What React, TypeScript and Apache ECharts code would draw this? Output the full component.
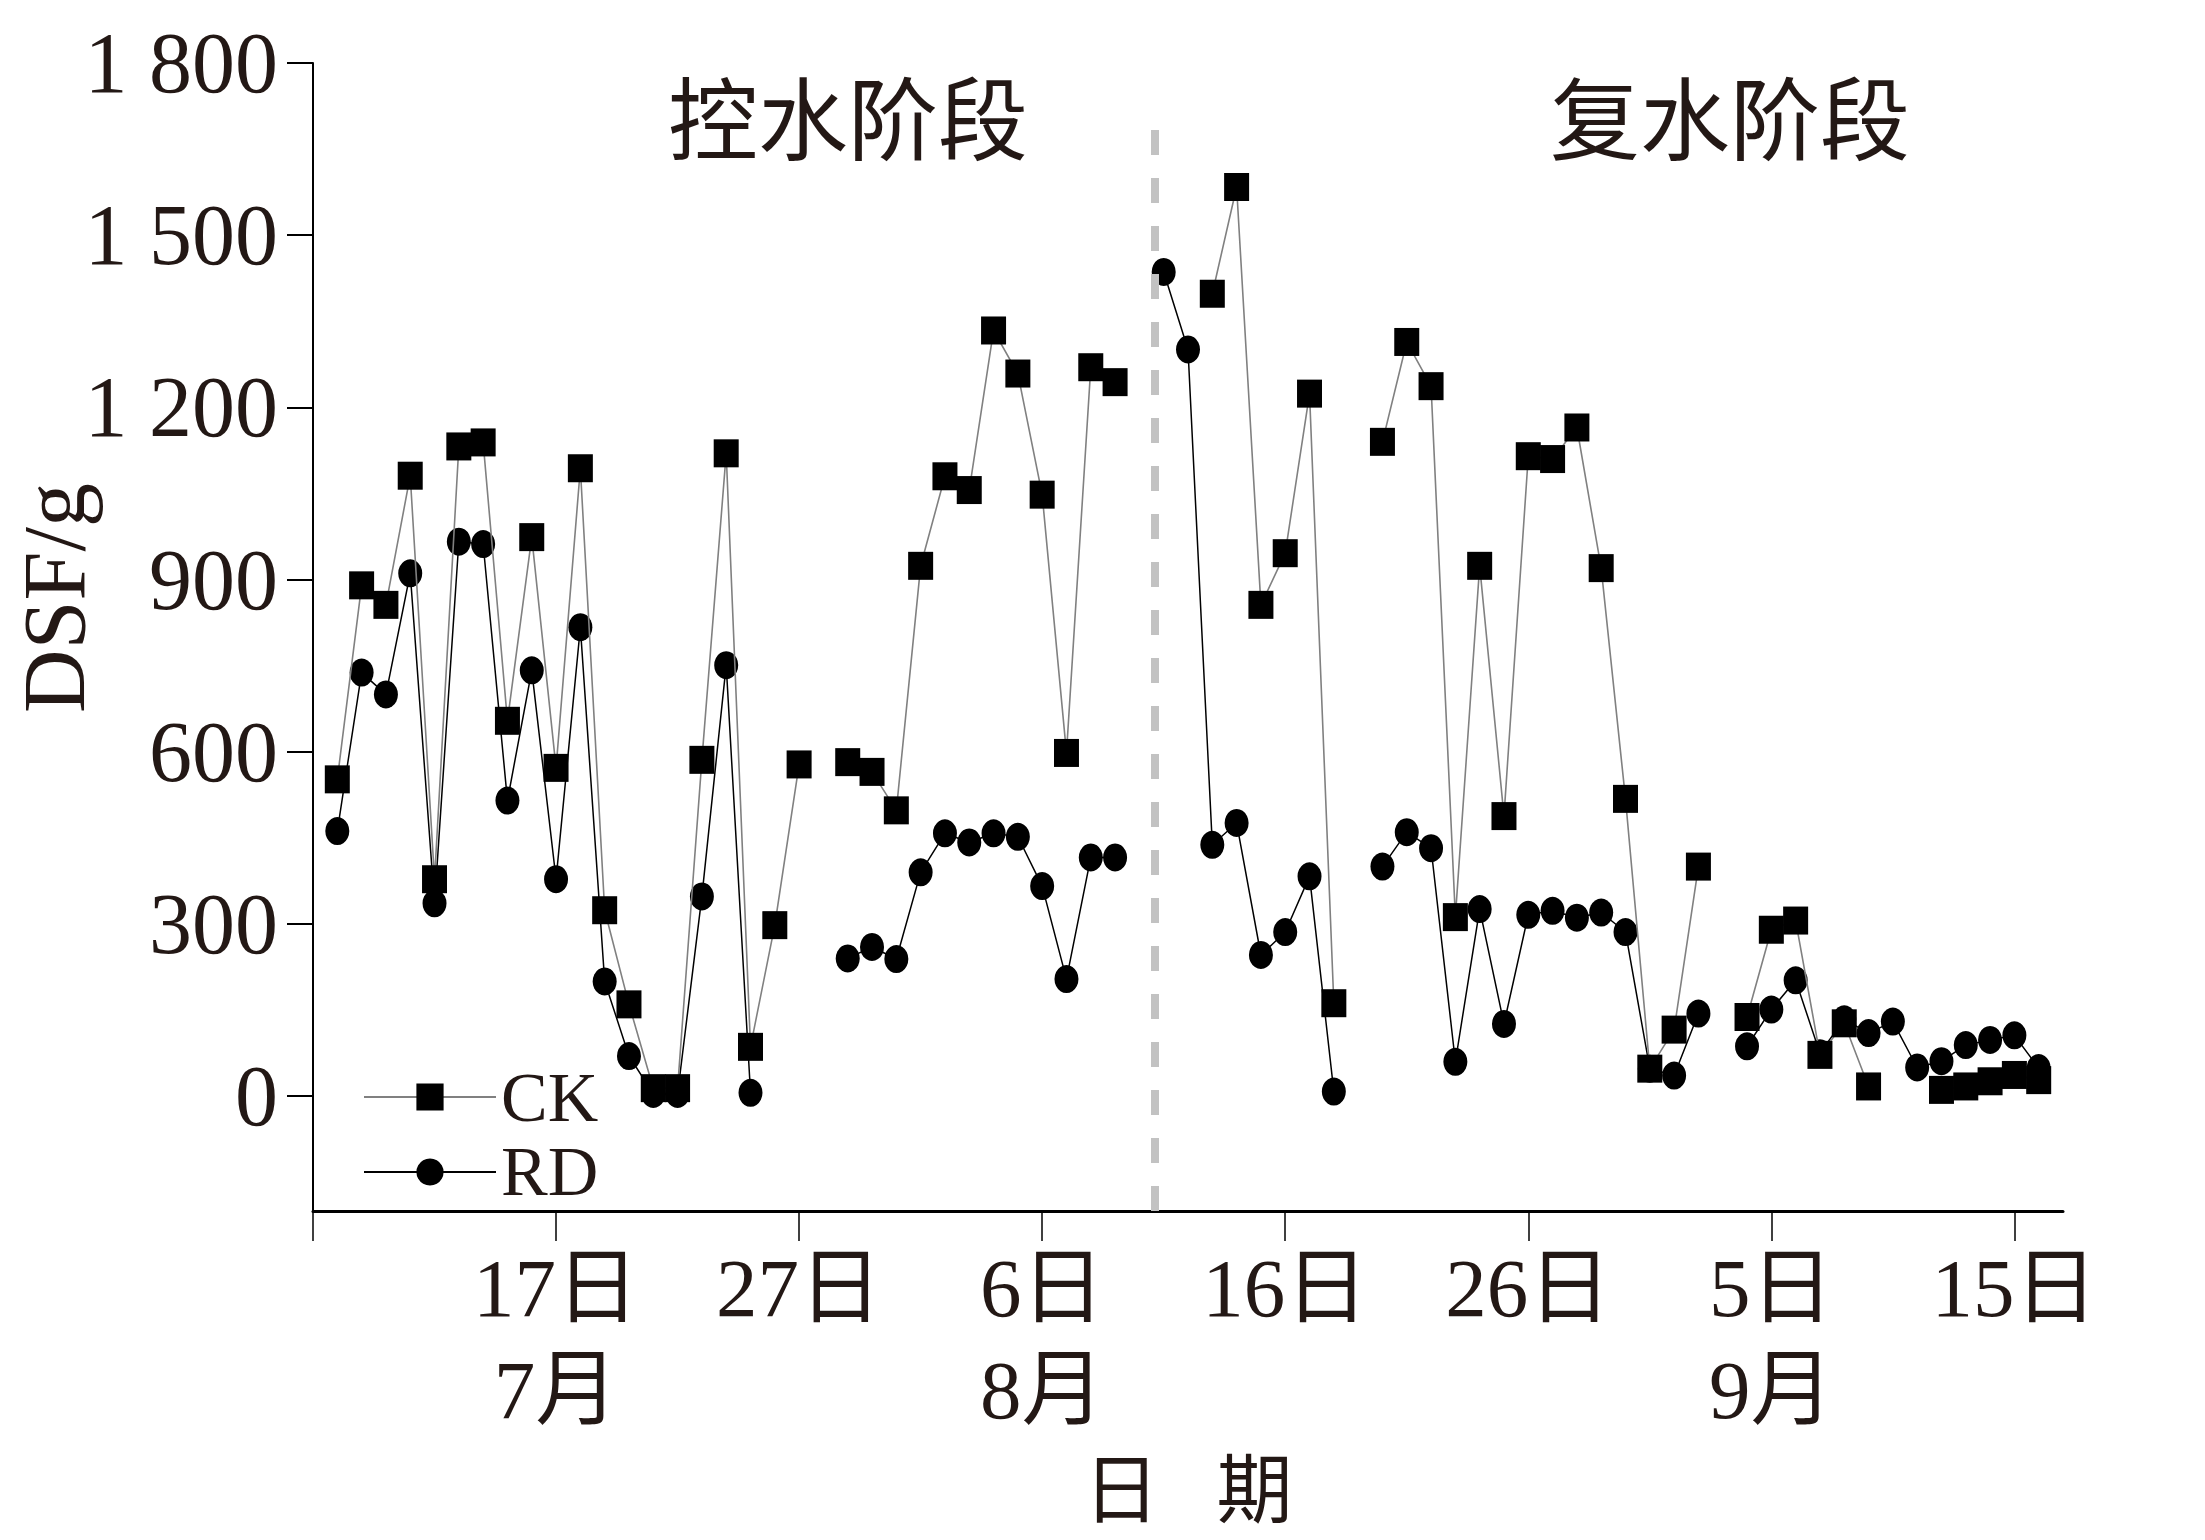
import React, { useEffect, useRef } from "react";
import * as echarts from "echarts";

const YEAR = 2000;
const startDate = "07-07";
const endDate = "09-17";

const dates = [
  "07-08", "07-09", "07-10", "07-11", "07-12", "07-13", "07-14", "07-15", "07-16", "07-17",
  "07-18", "07-19", "07-20", "07-21", "07-22", "07-23", "07-24", "07-25", "07-26", "07-27",
  "07-28", "07-29", "07-30", "07-31",
  "08-01", "08-02", "08-03", "08-04", "08-05", "08-06", "08-07", "08-08", "08-09", "08-10",
  "08-11", "08-12", "08-13", "08-14", "08-15", "08-16", "08-17", "08-18", "08-19", "08-20",
  "08-21", "08-22", "08-23", "08-24", "08-25", "08-26", "08-27", "08-28", "08-29", "08-30",
  "08-31",
  "09-01", "09-02", "09-03", "09-04", "09-05", "09-06", "09-07", "09-08", "09-09", "09-10",
  "09-11", "09-12", "09-13", "09-14", "09-15", "09-16",
];

const ckValues: (number | null)[] = [
  552, 890, 856, 1081, 378, 1132, 1139, 654, 974, 572,
  1094, 324, 160, 14, 14, 586, 1120, 86, 298, 578,
  null, 582, 565, 498,
  924, 1080, 1056, 1334, 1259, 1048, 598, 1270, 1244, null,
  null, null, 1398, 1584, 856, 946, 1224, 162, null, 1140,
  1314, 1237, 312, 924, 488, 1115, 1110, 1165, 920, 518,
  48,
  116, 400, null, 138, 290, 306, 72, 127, 17, null,
  null, 11, 17, 26, 37, 28,
];

const rdValues: (number | null)[] = [
  462, 738, 700, 911, 336, 966, 962, 515, 742, 378,
  817, 200, 70, 4, 4, 348, 751, 6, null, null,
  null, 240, 260, 239,
  390, 458, 442, 458, 452, 366, 204, 416, 416, null,
  1436, 1301, 438, 476, 246, 286, 383, 8, null, 400,
  460, 432, 60, 326, 126, 316, 323, 311, 320, 286,
  48,
  36, 144, null, 87, 151, 202, 75, 134, 110, 130,
  50, 61, 89, 98, 106, 49,
];

const seriesNames = ["CK", "RD"];
const yTicks = [0, 300, 600, 900, 1200, 1500, 1800];
const yMin = -200;
const yMax = 1800;
const xTickDays = [0, 10, 20, 30, 40, 50, 60, 70];
const xLabelDays = [10, 20, 30, 40, 50, 60, 70];
const phaseLabels = ["控水阶段", "复水阶段"];
const dividerDay = 34.65;
const dividerTop = 1700;
const xAxisName = "日\u2002\u2005期";
const yAxisName = "DSF/g";

const parseMD = (s: string) => {
  const [m, d] = s.split("-").map(Number);
  return Date.UTC(YEAR, m - 1, d);
};
const DAY = 86400000;
const toDay = (s: string) => Math.round((parseMD(s) - parseMD(startDate)) / DAY);
const fromDay = (n: number) => new Date(parseMD(startDate) + n * DAY);

const monthFirstLabel = new Set<number>();
{
  const seen = new Set<number>();
  xLabelDays.forEach((d) => {
    const m = fromDay(d).getUTCMonth();
    if (!seen.has(m)) {
      seen.add(m);
      monthFirstLabel.add(d);
    }
  });
}

const TEXT = "#231815";
const SERIF = "'Liberation Serif', 'DejaVu Serif', 'Noto Sans CJK SC', serif";
const CJK = "'Noto Sans CJK SC', 'Noto Sans CJK JP', sans-serif";

export default function App() {
  const ref = useRef<HTMLDivElement>(null);

  useEffect(() => {
    if (!ref.current) return;
    const chart = echarts.init(ref.current, undefined, { renderer: "svg" });

    const ckData = dates.map((d, i) => [toDay(d), ckValues[i] == null ? "-" : ckValues[i]]);
    const rdData = dates.map((d, i) => [toDay(d), rdValues[i] == null ? "-" : rdValues[i]]);

    const fmtY = (v: number) =>
      v >= 1000 ? `${Math.floor(v / 1000)} ${String(v % 1000).padStart(3, "0")}` : String(v);

    const fmtX = (v: number) => {
      const dt = fromDay(v);
      const day = `${dt.getUTCDate()}日`;
      if (monthFirstLabel.has(v)) return `${day}\n${dt.getUTCMonth() + 1}月`;
      return day;
    };

    chart.setOption({
      animation: false,
      backgroundColor: "#ffffff",
      grid: {
        left: 313,
        right: 142,
        top: 63,
        bottom: 329,
        containLabel: false,
        outerBoundsMode: "none",
      },
      legend: {
        data: seriesNames,
        orient: "vertical",
        left: 358,
        top: 1057,
        padding: 5,
        itemWidth: 132,
        itemHeight: 34,
        itemGap: 5,
        textStyle: { fontSize: 70, fontFamily: SERIF, color: TEXT },
      },
      xAxis: {
        type: "value",
        min: 0,
        max: toDay(endDate),
        splitLine: { show: false },
        axisLine: { show: true, onZero: false, lineStyle: { color: "#000", width: 3 } },
        axisTick: {
          show: true,
          inside: false,
          length: 30,
          customValues: xTickDays,
          lineStyle: { color: "#000", width: 1.5 },
        },
        axisLabel: {
          customValues: xLabelDays,
          formatter: fmtX,
          fontSize: 83,
          lineHeight: 102,
          margin: 26,
          fontFamily: SERIF,
          color: TEXT,
        },
        name: xAxisName,
        nameLocation: "middle",
        nameGap: 232,
        nameTextStyle: { fontSize: 76, lineHeight: 76, fontFamily: CJK, color: TEXT },
      },
      yAxis: {
        type: "value",
        min: yMin,
        max: yMax,
        splitLine: { show: false },
        axisLine: { show: true, onZero: false, lineStyle: { color: "#000", width: 2 } },
        axisTick: {
          show: true,
          length: 26,
          customValues: yTicks,
          lineStyle: { color: "#000", width: 2 },
        },
        axisLabel: {
          customValues: yTicks,
          formatter: fmtY,
          fontSize: 86,
          margin: 35,
          fontFamily: SERIF,
          color: TEXT,
        },
      },
      graphic: [
        {
          type: "text",
          x: 54,
          y: 598,
          rotation: Math.PI / 2,
          style: {
            text: yAxisName,
            fontSize: 88,
            lineHeight: 88,
            fontFamily: SERIF,
            fill: TEXT,
            align: "center",
            verticalAlign: "middle",
          },
        },
        {
          type: "text",
          x: 848,
          y: 114,
          style: {
            text: phaseLabels[0],
            fontSize: 90,
            fontFamily: CJK,
            fill: TEXT,
            align: "center",
            verticalAlign: "middle",
          },
        },
        {
          type: "text",
          x: 1730,
          y: 114,
          style: {
            text: phaseLabels[1],
            fontSize: 90,
            fontFamily: CJK,
            fill: TEXT,
            align: "center",
            verticalAlign: "middle",
          },
        },
      ],
      series: [
        {
          name: seriesNames[0],
          type: "line",
          data: ckData,
          connectNulls: false,
          symbol: "rect",
          symbolSize: [25, 28],
          itemStyle: { color: "#000" },
          lineStyle: { color: "#808080", width: 1.6 },
          z: 3,
          markLine: {
            silent: true,
            symbol: ["none", "none"],
            label: { show: false },
            lineStyle: { color: "#c2c2c2", width: 8, type: [25, 23] },
            data: [[{ coord: [dividerDay, yMin] }, { coord: [dividerDay, dividerTop] }]],
          },
        },
        {
          name: seriesNames[1],
          type: "line",
          data: rdData,
          connectNulls: false,
          symbol: "circle",
          symbolSize: [24, 28],
          itemStyle: { color: "#000" },
          lineStyle: { color: "#000", width: 1.5 },
          z: 2,
        },
      ],
    });

    return () => chart.dispose();
  }, []);

  return (
    <div
      ref={ref}
      style={{ position: "fixed", left: 0, top: 0, width: 2205, height: 1540, background: "#fff" }}
    />
  );
}
